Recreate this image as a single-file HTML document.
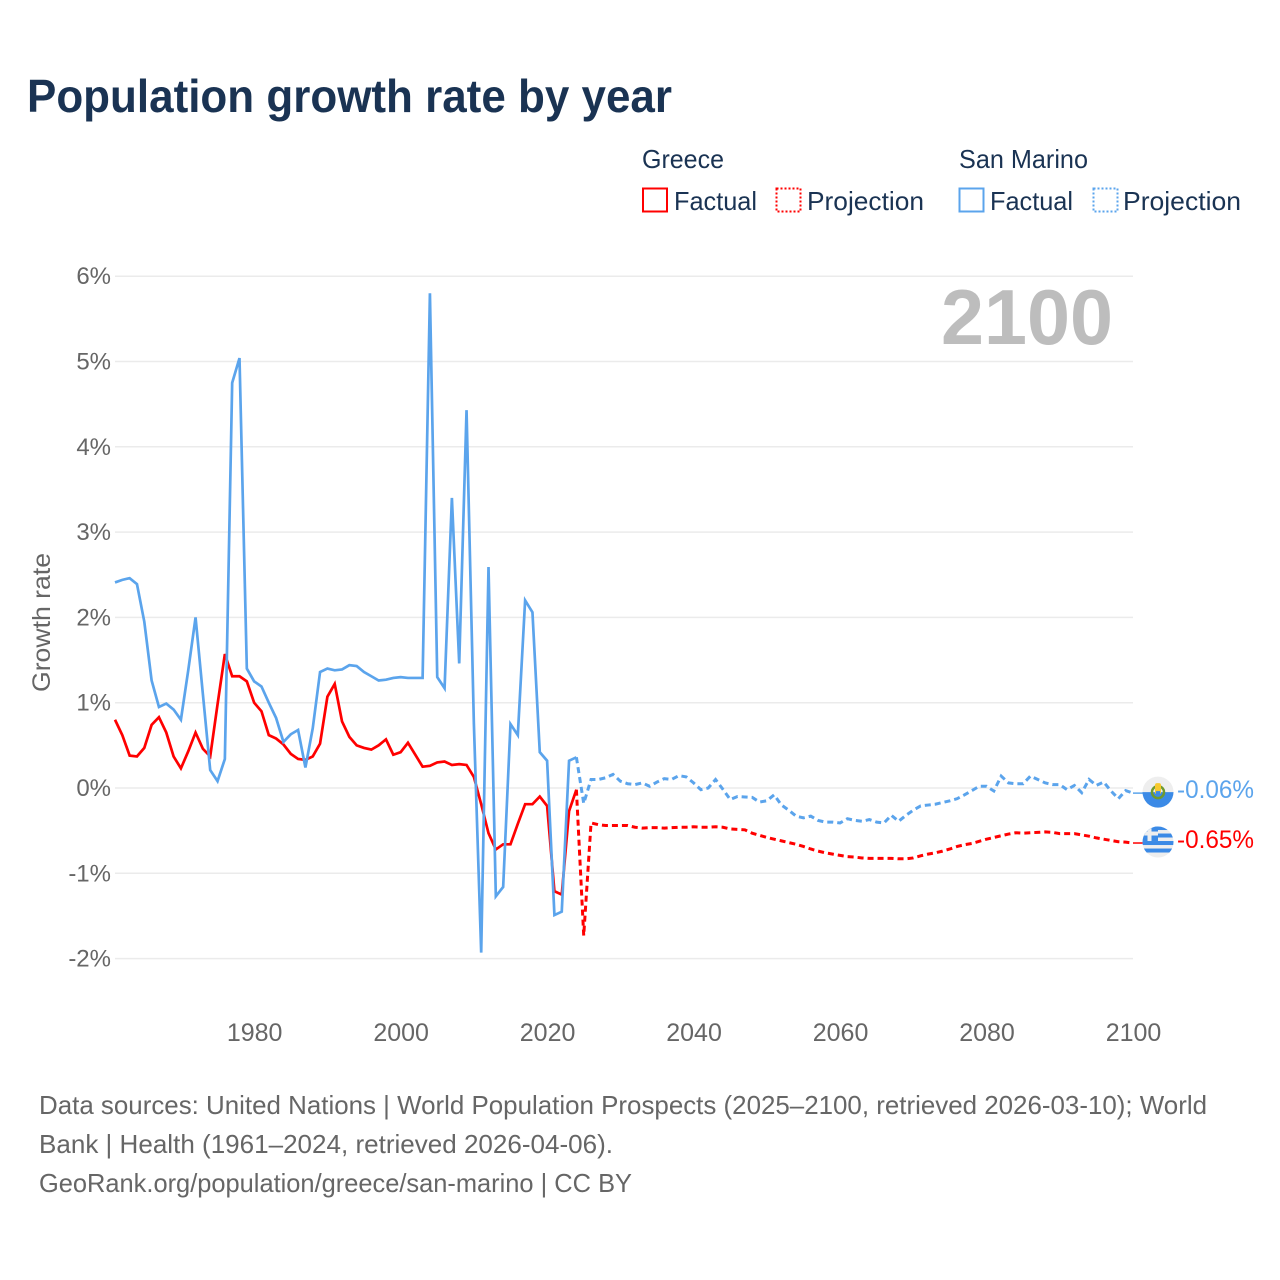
<!DOCTYPE html>
<html lang="en">
<head>
<meta charset="utf-8">
<title>Population growth rate by year</title>
<style>
html,body{margin:0;padding:0;background:#fff;}
svg{display:block;font-family:"Liberation Sans",sans-serif;}
</style>
</head>
<body>
<svg id="chart" xmlns="http://www.w3.org/2000/svg" width="1280" height="1280" viewBox="0 0 1280 1280">
  <rect x="0" y="0" width="1280" height="1280" fill="#ffffff"/>
  <text x="27" y="112" font-size="46" font-weight="700" fill="#1a3353" textLength="645" lengthAdjust="spacingAndGlyphs">Population growth rate by year</text>

  <g font-size="26" fill="#1a3353">
    <text x="642" y="168" textLength="82" lengthAdjust="spacingAndGlyphs">Greece</text>
    <text x="959" y="168" textLength="129" lengthAdjust="spacingAndGlyphs">San Marino</text>
    <g>
      <rect x="643" y="188.500" width="24" height="23" fill="none" stroke="#ff0000" stroke-width="2"/>
      <text x="674" y="210" textLength="83" lengthAdjust="spacingAndGlyphs">Factual</text>
    </g>
    <g>
      <rect x="776.500" y="188.500" width="24" height="23" fill="none" stroke="#ff0000" stroke-width="2" stroke-dasharray="2 2"/>
      <text x="807" y="210" textLength="117" lengthAdjust="spacingAndGlyphs">Projection</text>
    </g>
    <g>
      <rect x="959.500" y="188.500" width="24" height="23" fill="none" stroke="#5ba4ec" stroke-width="2"/>
      <text x="990" y="210" textLength="83" lengthAdjust="spacingAndGlyphs">Factual</text>
    </g>
    <g>
      <rect x="1093.500" y="188.500" width="24" height="23" fill="none" stroke="#5ba4ec" stroke-width="2" stroke-dasharray="2 2"/>
      <text x="1123" y="210" textLength="118" lengthAdjust="spacingAndGlyphs">Projection</text>
    </g>
  </g>

  <g id="grid"></g>
  <g id="yticks"></g>
  <g id="xticks"></g>
  <text transform="translate(50 622.500) rotate(-90)" text-anchor="middle" font-size="25" fill="#666666" textLength="139" lengthAdjust="spacingAndGlyphs">Growth rate</text>
  <text x="1113" y="344" text-anchor="end" font-size="78" font-weight="700" fill="#bdbdbd" textLength="172" lengthAdjust="spacingAndGlyphs">2100</text>

  <g id="series"></g>

  <defs>
    <clipPath id="clip-sm"><circle cx="1158" cy="0" r="15.500"/></clipPath>
    <clipPath id="clip-gr"><circle cx="1158" cy="0" r="15.500"/></clipPath>
  </defs>
  <g id="flag-sm">
    <g clip-path="url(#clip-sm)">
      <rect x="1142" y="-16" width="32" height="16" fill="#eeeeee"/>
      <rect x="1142" y="0" width="32" height="16" fill="#3b8ae6"/>
    </g>
    <circle cx="1158" cy="0" r="6" fill="none" stroke="#6f9a2e" stroke-width="2.500"/>
    <rect x="1155" y="-9" width="6" height="11" rx="2" fill="#f7c92e"/>
    <rect x="1156" y="-1" width="4" height="4" fill="#3b8ae6"/>
  </g>
  <g id="flag-gr">
    <g clip-path="url(#clip-gr)">
      <rect x="1142" y="-16" width="32" height="32" fill="#eeeeee"/>
      <rect x="1142" y="-16" width="32" height="4" fill="#3b8ae6"/>
      <rect x="1142" y="-8.500" width="32" height="4" fill="#3b8ae6"/>
      <rect x="1142" y="-1" width="32" height="4" fill="#3b8ae6"/>
      <rect x="1142" y="6.500" width="32" height="4" fill="#3b8ae6"/>
      <rect x="1142" y="-16" width="16" height="15" fill="#3b8ae6"/>
      <rect x="1147.500" y="-16" width="4" height="15" fill="#eeeeee"/>
      <rect x="1142" y="-10.500" width="16" height="4" fill="#eeeeee"/>
    </g>
  </g>
  <text id="label-sm" x="1177" font-size="25" fill="#5ba4ec" textLength="77" lengthAdjust="spacingAndGlyphs"></text>
  <text id="label-gr" x="1177" font-size="25" fill="#ff0000" textLength="77" lengthAdjust="spacingAndGlyphs"></text>

  <g font-size="26" fill="#666666">
    <text x="39" y="1114" textLength="1168" lengthAdjust="spacingAndGlyphs">Data sources: United Nations | World Population Prospects (2025–2100, retrieved 2026-03-10); World</text>
    <text x="39" y="1153" textLength="574" lengthAdjust="spacingAndGlyphs">Bank | Health (1961–2024, retrieved 2026-04-06).</text>
    <text x="39" y="1192" textLength="593" lengthAdjust="spacingAndGlyphs">GeoRank.org/population/greece/san-marino | CC BY</text>
  </g>
</svg>

<script>
const firstFactualYear = 1961;
const firstProjectionYear = 2024;
const yTickValues = [6, 5, 4, 3, 2, 1, 0, -1, -2];
const yTickLabels = ["6%", "5%", "4%", "3%", "2%", "1%", "0%", "-1%", "-2%"];
const xTickYears = [1980, 2000, 2020, 2040, 2060, 2080, 2100];
const xTickLabels = ["1980", "2000", "2020", "2040", "2060", "2080", "2100"];

const greeceFactual = [
  0.80, 0.62, 0.38, 0.37, 0.47, 0.74, 0.83, 0.65, 0.37, 0.23,
  0.43, 0.65, 0.46, 0.37, 0.98, 1.57, 1.31, 1.31, 1.25, 1.00,
  0.90, 0.62, 0.58, 0.51, 0.40, 0.34, 0.33, 0.37, 0.52, 1.07,
  1.22, 0.78, 0.60, 0.50, 0.47, 0.45, 0.50, 0.57, 0.39, 0.42,
  0.53, 0.39, 0.25, 0.26, 0.30, 0.31, 0.27, 0.28, 0.27, 0.13,
  -0.19, -0.53, -0.72, -0.66, -0.66, -0.42, -0.19, -0.19, -0.10, -0.21,
  -1.21, -1.25, -0.27, -0.02
];
const sanMarinoFactual = [
  2.41, 2.44, 2.46, 2.39, 1.95, 1.26, 0.95, 0.99, 0.92, 0.80,
  1.38, 2.00, 1.10, 0.21, 0.08, 0.34, 4.75, 5.04, 1.40, 1.25,
  1.19, 1.00, 0.82, 0.54, 0.63, 0.68, 0.24, 0.70, 1.36, 1.40,
  1.38, 1.39, 1.44, 1.43, 1.36, 1.31, 1.26, 1.27, 1.29, 1.30,
  1.29, 1.29, 1.29, 5.80, 1.30, 1.17, 3.40, 1.46, 4.43, 0.76,
  -1.93, 2.59, -1.27, -1.16, 0.75, 0.62, 2.20, 2.06, 0.42, 0.32,
  -1.49, -1.45, 0.32, 0.36
];
const greeceProjection = [
  -0.02, -1.73, -0.41, -0.43, -0.44, -0.44, -0.44, -0.44, -0.46, -0.47,
  -0.465, -0.465, -0.47, -0.465, -0.46, -0.46, -0.455, -0.46, -0.46, -0.455,
  -0.46, -0.48, -0.485, -0.49, -0.53, -0.555, -0.58, -0.60, -0.62, -0.64,
  -0.66, -0.685, -0.715, -0.74, -0.76, -0.775, -0.79, -0.805, -0.81, -0.82,
  -0.825, -0.825, -0.825, -0.825, -0.83, -0.83, -0.82, -0.795, -0.775, -0.76,
  -0.74, -0.715, -0.685, -0.665, -0.65, -0.625, -0.60, -0.58, -0.56, -0.54,
  -0.525, -0.53, -0.525, -0.52, -0.515, -0.52, -0.535, -0.535, -0.535, -0.55,
  -0.565, -0.585, -0.60, -0.615, -0.63, -0.635, -0.645
];
const sanMarinoProjection = [
  0.36, -0.18, 0.10, 0.10, 0.12, 0.16, 0.08, 0.05, 0.04, 0.06,
  0.02, 0.07, 0.11, 0.10, 0.145, 0.13, 0.06, -0.02, 0.00, 0.10,
  -0.015, -0.135, -0.10, -0.105, -0.11, -0.165, -0.15, -0.08, -0.20, -0.26,
  -0.33, -0.35, -0.33, -0.38, -0.40, -0.40, -0.41, -0.36, -0.38, -0.39,
  -0.37, -0.40, -0.41, -0.32, -0.39, -0.32, -0.26, -0.21, -0.20, -0.19,
  -0.17, -0.15, -0.125, -0.08, -0.03, 0.02, 0.02, -0.035, 0.14, 0.06,
  0.05, 0.05, 0.14, 0.10, 0.06, 0.04, 0.04, -0.02, 0.03, -0.055,
  0.10, 0.03, 0.07, -0.035, -0.125, -0.03, -0.06
];
const greeceEndLabel = "-0.65%";
const sanMarinoEndLabel = "-0.06%";

const SVG_NS = "http://www.w3.org/2000/svg";
function xScale(year) { return 115 + (year - 1961) * (1133 - 115) / (2100 - 1961); }
function yScale(value) { return 788 - value * 85.3; }
function make(tag, parent) {
  const el = document.createElementNS(SVG_NS, tag);
  parent.appendChild(el);
  return el;
}
function pathFrom(values, startYear) {
  return values.map(function (v, i) {
    return (i ? "L" : "M") + xScale(startYear + i).toFixed(2) + " " + yScale(v).toFixed(2);
  }).join(" ");
}

const gridGroup = document.getElementById("grid");
const yTickGroup = document.getElementById("yticks");
const xTickGroup = document.getElementById("xticks");
const seriesGroup = document.getElementById("series");

yTickValues.forEach(function (v, i) {
  const line = make("line", gridGroup);
  
  
  line.setAttribute("x1", xScale(1961));
  line.setAttribute("x2", xScale(2100));
  line.setAttribute("y1", yScale(v));
  line.setAttribute("y2", yScale(v));
  line.setAttribute("stroke", "#ebebeb");
  line.setAttribute("stroke-width", "1.5");

  const label = make("text", yTickGroup);
  
  
  label.setAttribute("x", 111);
  label.setAttribute("y", yScale(v) + 8);
  label.setAttribute("text-anchor", "end");
  label.setAttribute("font-size", "24");
  label.setAttribute("fill", "#666666");
  label.textContent = yTickLabels[i];
});

xTickYears.forEach(function (year, i) {
  const label = make("text", xTickGroup);
  
  
  label.setAttribute("x", xScale(year) + 0.5);
  label.setAttribute("y", 1041);
  label.setAttribute("text-anchor", "middle");
  label.setAttribute("font-size", "25");
  label.setAttribute("fill", "#666666");
  label.textContent = xTickLabels[i];
});

const connectorRed = make("line", seriesGroup);


connectorRed.setAttribute("x1", xScale(2100));
connectorRed.setAttribute("x2", 1143);
connectorRed.setAttribute("y1", yScale(greeceProjection[greeceProjection.length - 1]));
connectorRed.setAttribute("y2", yScale(greeceProjection[greeceProjection.length - 1]));
connectorRed.setAttribute("stroke", "#ff0000");
connectorRed.setAttribute("stroke-width", "1.5");

const connectorBlue = make("line", seriesGroup);


connectorBlue.setAttribute("x1", xScale(2100));
connectorBlue.setAttribute("x2", 1143);
connectorBlue.setAttribute("y1", yScale(sanMarinoProjection[sanMarinoProjection.length - 1]));
connectorBlue.setAttribute("y2", yScale(sanMarinoProjection[sanMarinoProjection.length - 1]));
connectorBlue.setAttribute("stroke", "#5ba4ec");
connectorBlue.setAttribute("stroke-width", "1.5");

const greeceFactualLine = make("path", seriesGroup);


greeceFactualLine.setAttribute("d", pathFrom(greeceFactual, firstFactualYear));
greeceFactualLine.setAttribute("fill", "none");
greeceFactualLine.setAttribute("stroke", "#ff0000");
greeceFactualLine.setAttribute("stroke-width", "2.7");
greeceFactualLine.setAttribute("stroke-linejoin", "miter");

const sanMarinoFactualLine = make("path", seriesGroup);


sanMarinoFactualLine.setAttribute("d", pathFrom(sanMarinoFactual, firstFactualYear));
sanMarinoFactualLine.setAttribute("fill", "none");
sanMarinoFactualLine.setAttribute("stroke", "#5ba4ec");
sanMarinoFactualLine.setAttribute("stroke-width", "2.7");
sanMarinoFactualLine.setAttribute("stroke-linejoin", "miter");

const greeceProjectionLine = make("path", seriesGroup);


greeceProjectionLine.setAttribute("d", pathFrom(greeceProjection, firstProjectionYear));
greeceProjectionLine.setAttribute("fill", "none");
greeceProjectionLine.setAttribute("stroke", "#ff0000");
greeceProjectionLine.setAttribute("stroke-width", "3");
greeceProjectionLine.setAttribute("stroke-dasharray", "6 4");

const sanMarinoProjectionLine = make("path", seriesGroup);


sanMarinoProjectionLine.setAttribute("d", pathFrom(sanMarinoProjection, firstProjectionYear));
sanMarinoProjectionLine.setAttribute("fill", "none");
sanMarinoProjectionLine.setAttribute("stroke", "#5ba4ec");
sanMarinoProjectionLine.setAttribute("stroke-width", "3");
sanMarinoProjectionLine.setAttribute("stroke-dasharray", "6 4");

const smY = yScale(sanMarinoProjection[sanMarinoProjection.length - 1]);
const grY = yScale(greeceProjection[greeceProjection.length - 1]);
document.getElementById("flag-sm").setAttribute("transform", "translate(0 " + (smY - 1) + ")");
document.getElementById("flag-gr").setAttribute("transform", "translate(0 " + (grY - 1) + ")");
const smLabel = document.getElementById("label-sm");
smLabel.setAttribute("y", smY + 5);
smLabel.textContent = sanMarinoEndLabel;
const grLabel = document.getElementById("label-gr");
grLabel.setAttribute("y", grY + 5);
grLabel.textContent = greeceEndLabel;
</script>
</body>
</html>
